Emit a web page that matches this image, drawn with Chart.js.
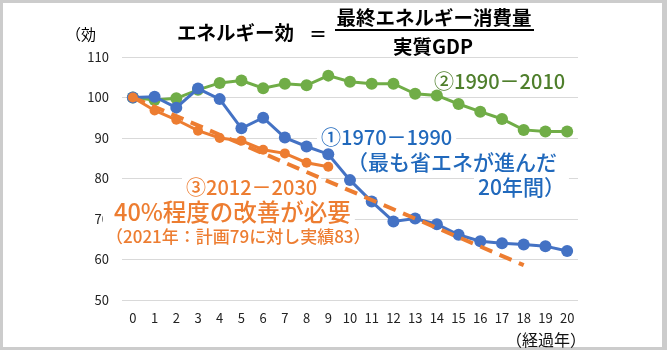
<!DOCTYPE html>
<html>
<head>
<meta charset="utf-8">
<script src="https://cdn.jsdelivr.net/npm/chart.js@4"></script>
<style>
  html, body { margin: 0; padding: 0; background: #fff; }
  #wrap { position: relative; width: 667px; height: 350px; }
</style>
</head>
<body>
<div id="wrap"><canvas id="effChart" width="667" height="350"></canvas></div>
<script>
// elapsed years
const years = ['0','1','2','3','4','5','6','7','8','9','10','11','12','13','14','15','16','17','18','19','20'];
// y ticks 50..110
const yMin = 50;
const yMax = 110;
const yStep = 10;

// (1) 1970-1990
const eff1970 = [100, 100.2, 97.5, 102.2, 99.6, 92.4, 95.0, 90.1, 87.9, 86.0, 79.6, 74.3, 69.4, 70.1, 68.7, 66.1, 64.5, 64.0, 63.7, 63.3, 62.1];
// (2) 1990-2010
const eff1990 = [100, 99.4, 99.8, 101.9, 103.6, 104.2, 102.3, 103.4, 103.0, 105.4, 103.9, 103.4, 103.4, 100.9, 100.5, 98.4, 96.5, 94.7, 92.0, 91.6, 91.6];
// (3) 2012-2021 actual
const eff2012 = [100, 96.8, 94.5, 91.8, 90.0, 89.3, 87.1, 86.2, 83.9, 82.9];
// (3) plan 2012-2030: start and end only
const plan2012 = [100, null, null, null, null, null, null, null, null, null, null, null, null, null, null, null, null, null, 58.6];

const JP = '"Noto Sans CJK JP", "Noto Sans", sans-serif';

// text blocks drawn over the grid (with white backing)
const notes = [
  { text: '②1990－2010', x: 434, y: 81, size: 20, color: '#4F7F2C', padL: 4 },
  { text: '①1970－1990', x: 321, y: 137, size: 20, color: '#2169BC', padL: 4 },
  { text: '（最も省エネが進んだ', x: 347, y: 162, size: 21, color: '#2169BC', padL: 4 },
  { text: '20年間）', x: 478, y: 187, size: 21, color: '#2169BC', padL: 4 },
  { text: '③2012－2030', x: 186, y: 187, size: 20, color: '#ED7D31', padL: 4 },
  { text: '40%程度の改善が必要', x: 114, y: 212, size: 23.5, color: '#ED7D31', padL: 11 },
  { text: '（2021年：計画79に対し実績83）', x: 106, y: 237, size: 17, color: '#ED7D31', padL: 4 }
];

const framePlugin = {
  id: 'frame',
  beforeDraw(chart) {
    const ctx = chart.ctx;
    ctx.save();
    ctx.fillStyle = '#cccccc';
    ctx.fillRect(0, 0, chart.width, chart.height);
    ctx.fillStyle = '#ffffff';
    ctx.fillRect(3, 3, chart.width - 8, chart.height - 6);
    ctx.restore();
  },
  beforeDatasetsDraw(chart) {
    const ctx = chart.ctx;
    ctx.save();
    ctx.textBaseline = 'middle';
    notes.forEach(n => {
      ctx.font = '500 ' + n.size + 'px ' + JP;
      const w = ctx.measureText(n.text).width;
      ctx.fillStyle = '#ffffff';
      ctx.fillRect(n.x - n.padL, n.y - n.size * 0.6, w + n.padL + 4, n.size * 1.2);
      ctx.fillStyle = n.color;
      ctx.textAlign = 'left';
      ctx.fillText(n.text, n.x, n.y);
    });
    ctx.restore();
  },
  afterDraw(chart) {
    const ctx = chart.ctx;
    ctx.save();
    ctx.textBaseline = 'middle';
    ctx.fillStyle = '#000';
    // y axis title (cut off)
    ctx.font = '15px ' + JP;
    ctx.textAlign = 'left';
    ctx.fillText('（効', 66, 34);
    // formula
    ctx.font = 'bold 19.5px ' + JP;
    ctx.fillText('エネルギー効', 177, 33);
    ctx.font = 'bold 18px ' + JP;
    ctx.fillText('＝', 309, 34);
    ctx.textAlign = 'center';
    ctx.font = 'bold 19.5px ' + JP;
    ctx.fillText('最終エネルギー消費量', 434, 18);
    ctx.fillText('実質GDP', 433, 47);
    ctx.fillRect(335, 29, 199, 2);
    // x axis title
    ctx.font = '16px ' + JP;
    ctx.textAlign = 'right';
    ctx.fillStyle = '#111';
    ctx.fillText('（経過年）', 586, 340);
    ctx.restore();
  }
};

new Chart(document.getElementById('effChart'), {
  type: 'line',
  data: {
    labels: years,
    datasets: [
      {
        label: '計画',
        data: plan2012,
        spanGaps: true,
        borderColor: '#ED7D31',
        borderWidth: 4,
        borderDash: [13, 8],
        pointRadius: 0,
        fill: false
      },
      {
        label: '③2012-2030',
        data: eff2012,
        borderColor: '#ED7D31',
        backgroundColor: '#ED7D31',
        borderWidth: 3,
        pointRadius: 5,
        pointBorderWidth: 0,
        fill: false
      },
      {
        label: '①1970-1990',
        data: eff1970,
        borderColor: '#4472C4',
        backgroundColor: '#4472C4',
        borderWidth: 3,
        pointRadius: 6,
        pointBorderWidth: 0,
        fill: false
      },
      {
        label: '②1990-2010',
        data: eff1990,
        borderColor: '#70AD47',
        backgroundColor: '#70AD47',
        borderWidth: 3,
        pointRadius: 6,
        pointBorderWidth: 0,
        fill: false
      }
    ]
  },
  options: {
    responsive: false,
    animation: false,
    layout: { padding: { top: 57, right: 89, left: 0, bottom: 0 } },
    plugins: {
      legend: { display: false },
      tooltip: { enabled: false }
    },
    scales: {
      x: {
        offset: true,
        grid: { display: false, drawTicks: false },
        border: { display: false },
        ticks: {
          padding: 10,
          color: '#222',
          font: { family: JP, size: 13 },
          maxRotation: 0,
          autoSkip: false
        },
        afterFit(scale) { scale.height = 50; }
      },
      y: {
        min: yMin,
        max: yMax,
        grid: { color: '#d9d9d9', lineWidth: 1, drawTicks: false },
        border: { display: false },
        ticks: {
          stepSize: yStep,
          padding: 13,
          color: '#222',
          font: { family: JP, size: 13 }
        },
        afterFit(scale) { scale.width = 122; }
      }
    }
  },
  plugins: [framePlugin]
});
</script>
</body>
</html>
